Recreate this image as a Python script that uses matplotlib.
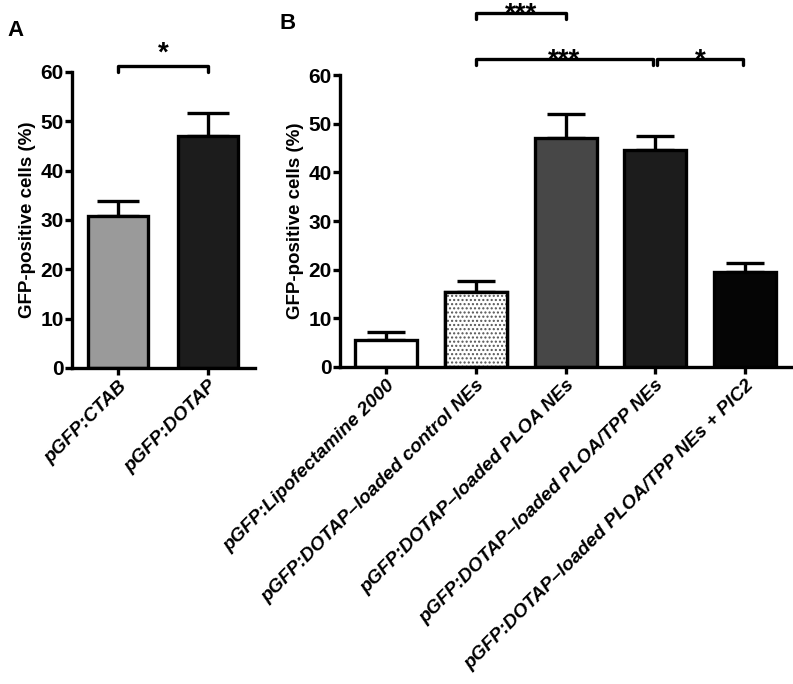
import numpy as np
import matplotlib.pyplot as plt

plt.rcParams['font.family'] = ['Liberation Sans', 'DejaVu Sans']
plt.rcParams['font.weight'] = 'bold'
plt.rcParams['hatch.linewidth'] = 1.0

# Panel A data
labels_a = ['pGFP:CTAB', 'pGFP:DOTAP']
mean_a = [30.7, 46.9]
sem_a = [3.1, 4.8]
colors_a = ['#9a9a9a', '#1c1c1c']

# Panel B data
labels_b = ['pGFP:Lipofectamine 2000',
            'pGFP:DOTAP\u2013loaded control NEs',
            'pGFP:DOTAP\u2013loaded PLOA NEs',
            'pGFP:DOTAP\u2013loaded PLOA/TPP NEs',
            'pGFP:DOTAP\u2013loaded PLOA/TPP NEs + PIC2']
mean_b = [5.6, 15.5, 47.1, 44.7, 19.6]
sem_b = [1.5, 2.2, 4.9, 2.9, 1.7]
colors_b = ['white', 'white', '#474747', '#1c1c1c', '#050505']

LW = 2.4

fig = plt.figure(figsize=(7.93, 6.84), dpi=100)
ax_a = fig.add_axes([0.0908, 0.462, 0.2308, 0.433])
ax_b = fig.add_axes([0.4288, 0.4635, 0.570, 0.4265])


def style_axis(ax, n):
    for s in ['top', 'right']:
        ax.spines[s].set_visible(False)
    for s in ['left', 'bottom']:
        ax.spines[s].set_linewidth(LW)
    ax.set_ylim(0, 60)
    ax.set_yticks(np.arange(0, 61, 10))
    ax.set_xlim(-0.51, n - 1 + 0.52)
    ax.set_xticks(np.arange(n))
    ax.tick_params(axis='both', width=LW, length=5)
    ax.tick_params(axis='y', labelsize=15, pad=1)
    ax.tick_params(axis='x', pad=2)
    ax.set_ylabel('GFP-positive cells (%)', fontsize=13.5, fontweight='bold', labelpad=3)
    for t in ax.get_yticklabels():
        t.set_fontweight('bold')


def bracket(ax, x1, x2, y, text, off, h=1.2):
    ax.plot([x1, x1, x2, x2], [y - h, y, y, y - h], color='black', lw=LW,
            clip_on=False, solid_capstyle='round', solid_joinstyle='round')
    ax.text((x1 + x2) / 2, y + off, text, ha='center', va='baseline',
            fontsize=20, fontweight='bold', clip_on=False)


# Panel A
xa = np.arange(len(mean_a))
ax_a.errorbar(xa, mean_a, yerr=[np.zeros(len(sem_a)), sem_a], fmt='none',
              ecolor='black', elinewidth=LW, capsize=15, capthick=LW, zorder=1)
ax_a.bar(xa, mean_a, width=0.67, color=colors_a, edgecolor='black', linewidth=LW, zorder=2)
style_axis(ax_a, len(mean_a))
ax_a.set_xticklabels(labels_a, rotation=45, ha='right', rotation_mode='anchor',
                     fontsize=13.8, fontstyle='italic', fontweight='bold')
bracket(ax_a, 0, 1, 61.2, '*', 1.0)
fig.text(0.019, 0.956, 'A', fontsize=16, fontweight='bold', ha='center', va='center')

# Panel B
xb = np.arange(len(mean_b))
ax_b.errorbar(xb, mean_b, yerr=[np.zeros(len(sem_b)), sem_b], fmt='none',
              ecolor='black', elinewidth=LW, capsize=14, capthick=LW, zorder=1)
ax_b.bar(xb, mean_b, width=0.69, color=colors_b, edgecolor='black', linewidth=LW, zorder=2)
# dotted fill for the control NEs bar
ax_b.bar(xb[1], mean_b[1], width=0.69, color='white', edgecolor='#555555',
         hatch='....', linewidth=0, zorder=2.5)
ax_b.bar(xb[1], mean_b[1], width=0.69, fill=False, edgecolor='black', linewidth=LW, zorder=3)
style_axis(ax_b, len(mean_b))
ax_b.set_xticklabels(labels_b, rotation=45, ha='right', rotation_mode='anchor',
                     fontsize=13.8, fontstyle='italic', fontweight='bold')
bracket(ax_b, 1, 2, 72.8, '***', -1.8)
bracket(ax_b, 1, 2.97, 63.3, '***', -1.8)
bracket(ax_b, 3.02, 3.97, 63.3, '*', -1.8)
fig.text(0.363, 0.965, 'B', fontsize=16, fontweight='bold', ha='center', va='center')

fig.savefig('out.png', dpi=100)
